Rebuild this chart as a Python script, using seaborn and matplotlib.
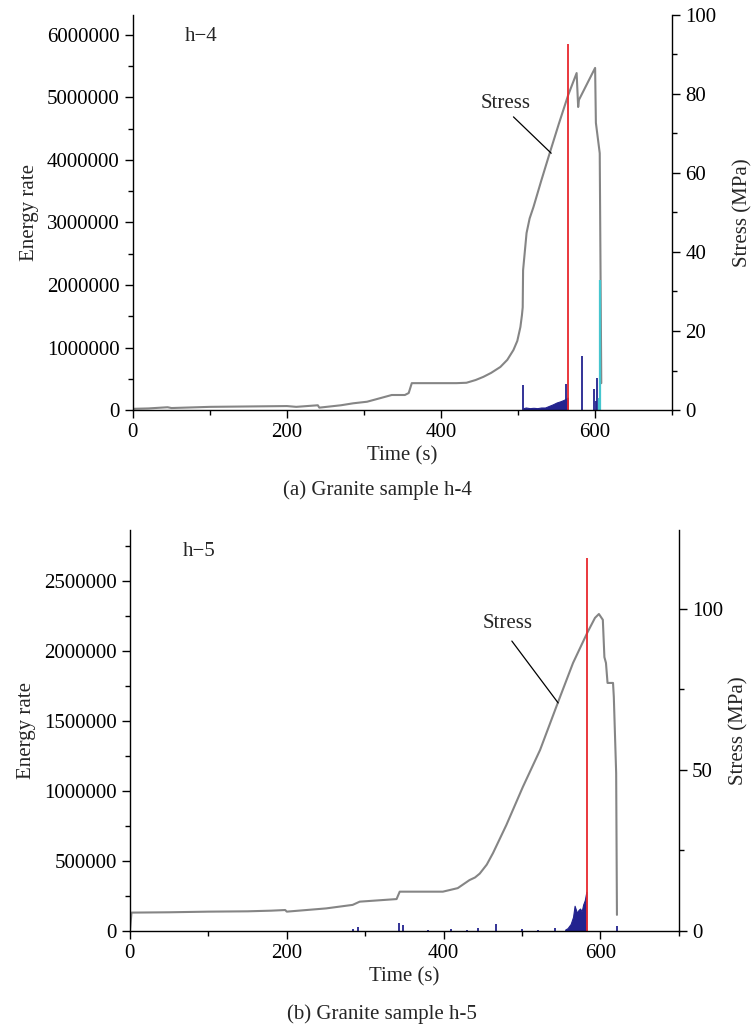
import numpy as np
import matplotlib
matplotlib.use("Agg")
import matplotlib.pyplot as plt
from matplotlib.ticker import MultipleLocator, StrMethodFormatter
import seaborn as sns

# ---- sample h-4 ----
# stress curve (s, MPa)
t_stress_a = [0, 20, 45, 50, 100, 150, 200, 212, 240, 242, 270, 286, 304, 321, 336, 353,
              358, 362, 380, 420, 433, 445, 455, 465, 477, 486, 494, 499, 503, 505, 506,
              506.5, 511, 515, 520, 530, 541, 553, 565, 576, 578, 579, 600, 601, 606, 608]
stress_a = [0.3, 0.4, 0.7, 0.5, 0.8, 0.9, 1.0, 0.8, 1.2, 0.6, 1.2, 1.7, 2.1, 3.0, 3.8, 3.8,
            4.3, 6.8, 6.8, 6.8, 6.9, 7.6, 8.4, 9.4, 10.9, 12.7, 15.2, 17.5, 21.0, 24.0, 26.0,
            35.4, 44.8, 48.5, 51.4, 58.0, 65.0, 72.5, 79.7, 85.3, 76.7, 78.5, 86.6, 72.7,
            65.0, 6.8]
# dense energy cluster before the main peak
t_cluster_a = [507, 510, 515, 520, 525, 530, 535, 541, 545, 550, 555, 559, 562, 564.5]
e_cluster_a = [0.03e6, 0.04e6, 0.03e6, 0.035e6, 0.03e6, 0.04e6, 0.04e6, 0.07e6, 0.09e6,
               0.12e6, 0.14e6, 0.16e6, 0.18e6, 0.2e6]
# isolated energy spikes
t_spike_a = [506, 562, 583, 599, 601, 603]
e_spike_a = [0.40e6, 0.42e6, 0.87e6, 0.33e6, 0.15e6, 0.52e6]
t_peak_a, e_peak_a = 565, 5.86e6        # red bar
t_late_a = [605, 606]                    # cyan bars
e_late_a = [0.19e6, 2.08e6]

# ---- sample h-5 ----
t_stress_b = [0, 2, 50, 100, 150, 180, 198, 200, 250, 284, 293, 340, 344, 399, 418, 433,
              440, 446, 455, 463, 480, 501, 523, 546, 565, 583, 593, 598, 603, 605, 607,
              609, 616, 617, 620, 621]
stress_b = [0.0, 5.7, 5.8, 6.0, 6.1, 6.3, 6.5, 6.0, 7.0, 8.1, 9.1, 9.9, 12.2, 12.2, 13.3,
            15.8, 16.6, 17.8, 20.6, 24.2, 32.9, 44.7, 56.2, 71.1, 83.2, 92.5, 97.2, 98.4,
            96.6, 85.0, 83.2, 77.0, 77.0, 72.7, 49.0, 5.0]
t_cluster_b = [555, 558, 562, 565, 567, 570, 572, 574, 576, 578, 580, 582]
e_cluster_b = [0.01e6, 0.02e6, 0.05e6, 0.10e6, 0.18e6, 0.13e6, 0.15e6, 0.16e6, 0.14e6,
               0.19e6, 0.22e6, 0.28e6]
t_spike_b = [285, 291, 343, 348, 380, 410, 430, 444, 467, 500, 520, 542, 621]
e_spike_b = [0.015e6, 0.03e6, 0.055e6, 0.04e6, 0.01e6, 0.015e6, 0.01e6, 0.02e6, 0.05e6,
             0.015e6, 0.01e6, 0.02e6, 0.035e6]
t_peak_b, e_peak_b = 582.5, 2.66e6

sns.set_theme(style="ticks")
plt.rcParams["font.family"] = ["Liberation Serif", "DejaVu Serif"]
plt.rcParams["font.size"] = 15

NAVY = "#23238f"
GREY = "#858585"
RED = "#e8282d"
CYAN = "#45c6cf"
FS = 15

fig = plt.figure(figsize=(7.51, 10.32), dpi=100)


def style(ax, ax2, pad2):
    for a in (ax, ax2):
        a.spines["top"].set_visible(False)
        a.tick_params(which="both", direction="out", colors="black", labelsize=FS, width=1)
        a.tick_params(which="major", length=6)
        a.tick_params(which="minor", length=3.5)
    ax.spines["right"].set_visible(False)
    ax2.spines["left"].set_visible(False)
    ax2.spines["bottom"].set_visible(False)
    for s in ("left", "bottom"):
        ax.spines[s].set_color("black")
        ax.spines[s].set_linewidth(1)
    ax2.spines["right"].set_color("black")
    ax2.spines["right"].set_linewidth(1)
    ax.set_xlim(0, 700)
    ax.xaxis.set_major_locator(MultipleLocator(200))
    ax.xaxis.set_minor_locator(MultipleLocator(100))
    ax.yaxis.set_major_formatter(StrMethodFormatter("{x:.0f}"))
    ax.set_xlabel("Time (s)", fontsize=FS, labelpad=3)
    ax.set_ylabel("Energy rate", fontsize=FS, labelpad=6)
    ax2.set_ylabel("Stress (MPa)", fontsize=FS, labelpad=pad2)
    ax.grid(False)
    ax2.grid(False)


def panel(rect, t_s, s, t_c, e_c, t_sp, e_sp, t_pk, e_pk, ylim, ymaj, ymin,
          y2lim, y2maj, y2min, tag, lab_txt, lab_line, pad2):
    ax = fig.add_axes(rect)
    ax2 = ax.twinx()
    # energy bars sit above the stress curve
    ax.set_zorder(ax2.get_zorder() + 1)
    ax.patch.set_visible(False)
    ax.fill_between(t_c, 0, e_c, color=NAVY, lw=0.8, edgecolor=NAVY)
    ax.vlines(t_sp, 0, e_sp, color=NAVY, lw=1.3)
    ax.vlines([t_pk], 0, [e_pk], color=RED, lw=1.3)
    sns.lineplot(x=t_s, y=s, ax=ax2, color=GREY, lw=1.5, sort=False, estimator=None)
    ax.set_ylim(*ylim)
    ax.yaxis.set_major_locator(MultipleLocator(ymaj))
    ax.yaxis.set_minor_locator(MultipleLocator(ymin))
    ax2.set_ylim(*y2lim)
    ax2.yaxis.set_major_locator(MultipleLocator(y2maj))
    ax2.yaxis.set_minor_locator(MultipleLocator(y2min))
    ax.text(0.097, 0.945, tag, transform=ax.transAxes, fontsize=FS, va="center")
    ax2.text(lab_txt[0], lab_txt[1], "Stress", fontsize=FS, ha="center", va="center")
    ax2.plot(lab_line[0], lab_line[1], color="black", lw=0.9)
    style(ax, ax2, pad2)
    return ax, ax2


ax_a, ax2_a = panel([0.177, 0.6027, 0.718, 0.3828], t_stress_a, stress_a,
                    t_cluster_a, e_cluster_a, t_spike_a, e_spike_a, t_peak_a, e_peak_a,
                    (0, 6.32e6), 1e6, 5e5, (0, 100), 20, 10, "h\u22124",
                    (484, 77.5), ([494, 543], [74.2, 65.0]), 12)
ax_a.vlines(t_late_a, 0, e_late_a, color=CYAN, lw=1.6)

ax_b, ax2_b = panel([0.173, 0.0979, 0.731, 0.3886], t_stress_b, stress_b,
                    t_cluster_b, e_cluster_b, t_spike_b, e_spike_b, t_peak_b, e_peak_b,
                    (0, 2.864e6), 5e5, 2.5e5, (0, 124.5), 50, 25, "h\u22125",
                    (481, 95.5), ([487, 546], [90.0, 70.8]), 4)

fig.text(0.503, 1 - 490 / 1032, "(a) Granite sample h-4", ha="center", va="center", fontsize=FS)
fig.text(0.508, 1 - 1014 / 1032, "(b) Granite sample h-5", ha="center", va="center", fontsize=FS)

fig.savefig("out.png", dpi=100)
